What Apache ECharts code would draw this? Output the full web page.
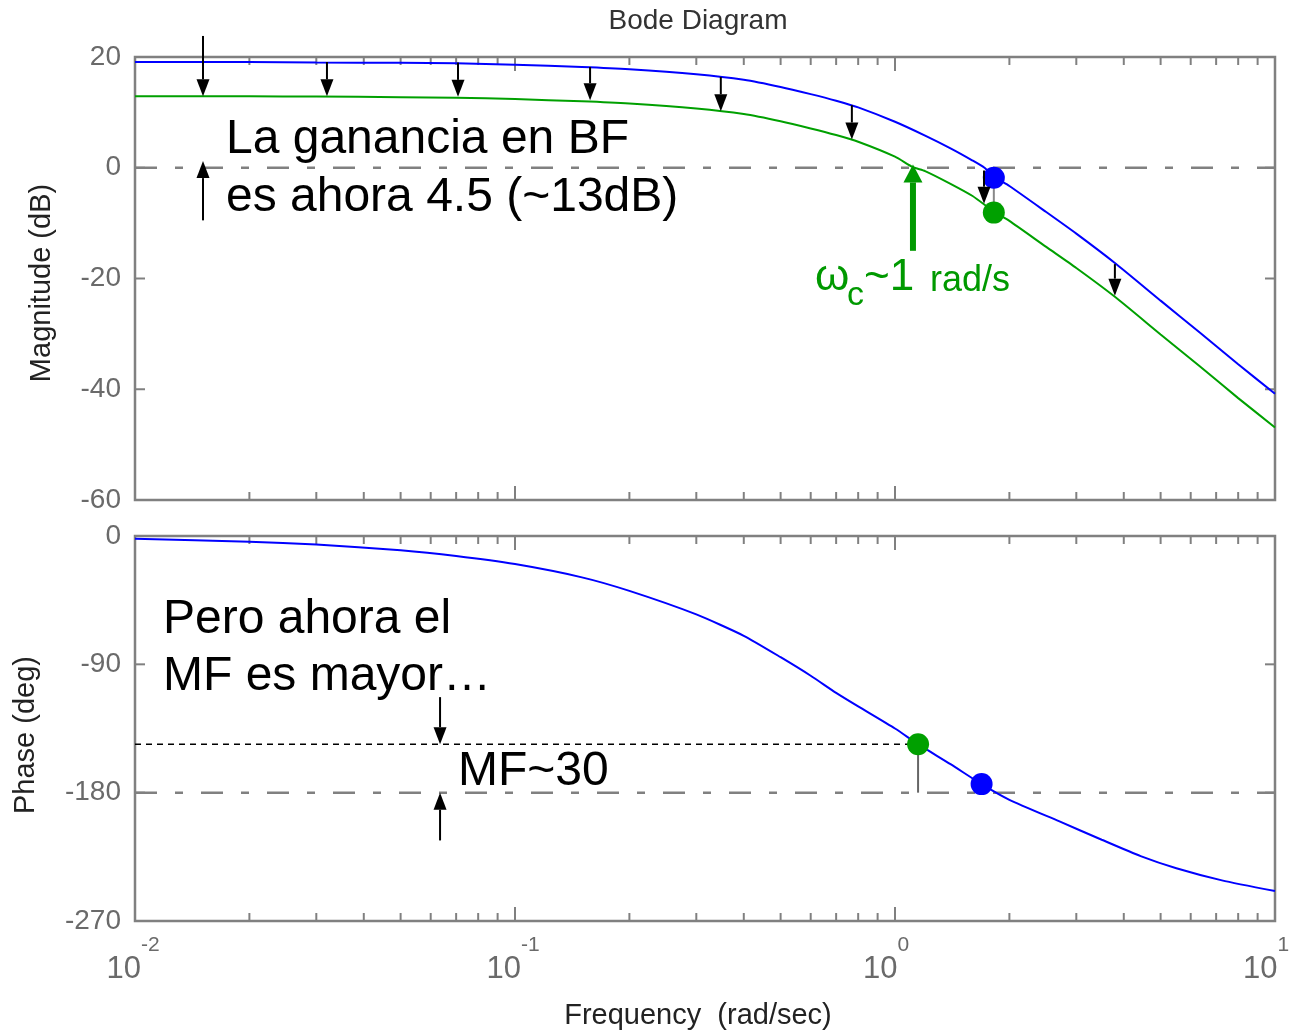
<!DOCTYPE html>
<html><head><meta charset="utf-8">
<script src="https://cdn.jsdelivr.net/npm/echarts@6/dist/echarts.min.js"></script>
<style>html,body{margin:0;padding:0;background:#fff}#c{width:1290px;height:1032px}</style>
</head><body><div id="c"></div>
<script>
// ---- data ----
const magBlue = [[0.01,19.1],[0.02,19.1],[0.03,19.0],[0.05,18.95],[0.07,18.85],[0.1,18.6],[0.15,18.2],[0.2,17.8],[0.3,16.9],[0.4,15.9],[0.5,14.6],[0.6,13.3],[0.7,12.1],[0.8,10.9],[1.0,8.3],[1.2,5.8],[1.4,3.5],[1.6,1.3],[1.72,0],[1.82,-1.6],[2.0,-3.3],[2.5,-8.0],[3.0,-11.9],[3.79,-17.2],[5.0,-24.0],[6.35,-29.8],[8.0,-35.5],[10,-40.8]];
const magGreen = [[0.01,12.9],[0.02,12.9],[0.03,12.85],[0.05,12.75],[0.07,12.65],[0.1,12.4],[0.15,12.0],[0.2,11.6],[0.3,10.7],[0.4,9.7],[0.5,8.4],[0.6,7.1],[0.7,5.9],[0.8,4.7],[1.0,2.0],[1.115,0.1],[1.2,-0.6],[1.4,-2.9],[1.6,-5.1],[1.82,-7.9],[2.0,-9.6],[2.5,-14.3],[3.0,-18.1],[3.79,-23.3],[5.0,-30.1],[6.35,-35.9],[8.0,-41.6],[10,-46.9]];
const phaseBlue = [[0.01,-2],[0.02,-4],[0.03,-6],[0.05,-10],[0.07,-14],[0.1,-19.7],[0.15,-29],[0.2,-38.5],[0.3,-55],[0.4,-70],[0.5,-85],[0.6,-98],[0.7,-110],[0.8,-119.5],[1.0,-135],[1.15,-146],[1.4,-160],[1.69,-174],[2.0,-185],[2.7,-200],[3.5,-213],[4.43,-224.5],[5.5,-233],[7.25,-241.5],[10,-249]];
const magDotBlue = [[1.82,-1.8]];
const magDotGreen = [[1.82,-8.1]];
const phaseDotGreen = [[1.15,-146]];
const phaseDotBlue = [[1.69,-174]];
const magArrows = [[0.0151,23.8,12.9],[0.0151,-9.5,1.2],[0.032,19.1,12.9],[0.0708,19.0,12.8],[0.1576,18.2,12.2],[0.348,16.4,10.2],[0.77,11.3,5.1],[1.715,-0.5,-6.5],[3.79,-17.4,-23.1]];
const wcArrow = [[1.115,-15,0.6]];
const phaseArrows = [[0.0635,-113,-146],[0.0635,-213.5,-180]];
const mfLevel = [[0.01,-146],[1.15,-146]];
const mfDrop = [[1.15,-146],[1.15,-180]];
const magDrop = [[1.82,-1.8],[1.82,-8.1]];
const zeroDb = [[0.01,0],[10,0]];
const minus180 = [[0.01,-180],[10,-180]];
const magTicks = [20,0,-20,-40,-60];
const phaseTicks = [0,-90,-180,-270];
const decades = [0.01,0.1,1,10];
const mults = [2,3,4,5,6,7,8,9];

const FONT = '"Liberation Sans", Arial, sans-serif';
const GRAY = '#808080';
const BLUE = '#0000ff';
const GREEN = '#00a000';
const LBL = '#6a6a6a';

const freqTicks = [];
decades.forEach((d,i)=>{ freqTicks.push([d,1]); if(i<decades.length-1) mults.forEach(m=>freqTicks.push([d*m,0])); });

function freqTickRender(yMin,yMax){
  return function(p,api){
    const f=api.value(0), major=api.value(1);
    const b=api.coord([f,yMin]), t=api.coord([f,yMax]);
    const len=major?14:8;
    return {type:'group',children:[
      {type:'line',shape:{x1:b[0],y1:b[1],x2:b[0],y2:b[1]-len},style:{stroke:GRAY,lineWidth:2}},
      {type:'line',shape:{x1:t[0],y1:t[1],x2:t[0],y2:t[1]+len},style:{stroke:GRAY,lineWidth:2}}
    ]};
  };
}
function yTickRender(p,api){
  const v=api.value(1);
  const l=api.coord([0.01,v]), r=api.coord([10,v]);
  return {type:'group',children:[
    {type:'line',shape:{x1:l[0],y1:l[1],x2:l[0]+10,y2:l[1]},style:{stroke:GRAY,lineWidth:2}},
    {type:'line',shape:{x1:r[0],y1:r[1],x2:r[0]-10,y2:r[1]},style:{stroke:GRAY,lineWidth:2}}
  ]};
}
function arrowRender(hw,hh,lw,color){
  return function(p,api){
    const x=api.value(0);
    const p1=api.coord([x,api.value(1)]), p2=api.coord([x,api.value(2)]);
    const dir=p2[1]>p1[1]?1:-1;
    const by=p2[1]-dir*hh;
    return {type:'group',children:[
      {type:'line',shape:{x1:p1[0],y1:p1[1],x2:p2[0],y2:by},style:{stroke:color,lineWidth:lw}},
      {type:'polygon',shape:{points:[[p2[0],p2[1]],[p2[0]-hw/2,by],[p2[0]+hw/2,by]]},style:{fill:color}}
    ]};
  };
}

const chart = echarts.init(document.getElementById('c'),null,{renderer:'canvas'});
const yLabel = {fontSize:28,color:LBL,fontFamily:FONT,margin:14};
const hiddenX = {type:'log',logBase:10,min:0.01,max:10,axisLine:{show:false},axisTick:{show:false},splitLine:{show:false},minorTick:{show:false}};
const lineBase = {type:'line',showSymbol:false,symbol:'none',animation:false};
const gridBase = {left:135,width:1140,show:true,borderColor:GRAY,borderWidth:2.5,backgroundColor:'#fff',containLabel:false,outerBoundsMode:'none'};

chart.setOption({
  animation:false,
  backgroundColor:'#fff',
  grid:[
    Object.assign({top:57,height:443},gridBase),
    Object.assign({top:536,height:385},gridBase)
  ],
  xAxis:[
    Object.assign({gridIndex:0,axisLabel:{show:false}},hiddenX),
    Object.assign({gridIndex:1,axisLabel:{show:true,margin:14,hideOverlap:false,
      formatter:function(v){
        const e=Math.round(Math.log10(v));
        return '{b|10}{s|'+e+'}{'+(e<0?'p1':'p2')+'| }';
      },
      rich:{
        b:{fontSize:31,lineHeight:31,color:LBL,fontFamily:FONT,verticalAlign:'bottom'},
        s:{fontSize:21,lineHeight:21,color:LBL,fontFamily:FONT,verticalAlign:'top'},
        p1:{fontSize:10,lineHeight:50,width:4},
        p2:{fontSize:10,lineHeight:50,width:18}
      }
    }},hiddenX)
  ],
  yAxis:[
    {type:'value',gridIndex:0,min:-60,max:20,interval:20,axisLine:{show:false},axisTick:{show:false},splitLine:{show:false},axisLabel:yLabel},
    {type:'value',gridIndex:1,min:-270,max:0,interval:90,axisLine:{show:false},axisTick:{show:false},splitLine:{show:false},axisLabel:yLabel}
  ],
  graphic:[
    {type:'text',x:698,y:21,style:{text:'Bode Diagram',fontSize:28,fontFamily:FONT,fill:'#333',align:'center',verticalAlign:'middle'}},
    {type:'text',x:42,y:283,rotation:Math.PI/2,style:{text:'Magnitude (dB)',fontSize:29,fontFamily:FONT,fill:'#222',align:'center',verticalAlign:'middle'}},
    {type:'text',x:26,y:735,rotation:Math.PI/2,style:{text:'Phase (deg)',fontSize:29,fontFamily:FONT,fill:'#222',align:'center',verticalAlign:'middle'}},
    {type:'text',x:698,y:1016,style:{text:'Frequency  (rad/sec)',fontSize:29,fontFamily:FONT,fill:'#222',align:'center',verticalAlign:'middle'}},
    {type:'text',x:226,y:140,z:100,style:{text:'La ganancia en BF',fontSize:48,fontFamily:FONT,fill:'#000',align:'left',verticalAlign:'middle'}},
    {type:'text',x:226,y:198,z:100,style:{text:'es ahora 4.5 (~13dB)',fontSize:48,fontFamily:FONT,fill:'#000',align:'left',verticalAlign:'middle'}},
    {type:'text',x:163,y:620,z:100,style:{text:'Pero ahora el',fontSize:48,fontFamily:FONT,fill:'#000',align:'left',verticalAlign:'middle'}},
    {type:'text',x:163,y:677,z:100,style:{text:'MF es mayor…',fontSize:48,fontFamily:FONT,fill:'#000',align:'left',verticalAlign:'middle'}},
    {type:'text',x:458,y:772,z:100,style:{text:'MF~30',fontSize:48,fontFamily:FONT,fill:'#000',align:'left',verticalAlign:'middle'}},
    {type:'text',x:815,y:278,z:100,style:{text:'ω',fontSize:44,fontFamily:FONT,fill:'#009900',align:'left',verticalAlign:'middle'}},
    {type:'text',x:847,y:296,z:100,style:{text:'c',fontSize:34,fontFamily:FONT,fill:'#009900',align:'left',verticalAlign:'middle'}},
    {type:'text',x:864,y:278,z:100,style:{text:'~1',fontSize:44,fontFamily:FONT,fill:'#009900',align:'left',verticalAlign:'middle'}},
    {type:'text',x:930,y:281,z:100,style:{text:'rad/s',fontSize:36,fontFamily:FONT,fill:'#009900',align:'left',verticalAlign:'middle'}}
  ],
  series:[
    Object.assign({},lineBase,{xAxisIndex:0,yAxisIndex:0,data:zeroDb,z:2,lineStyle:{color:GRAY,width:2.5,type:[22,18,8,18]}}),
    Object.assign({},lineBase,{xAxisIndex:1,yAxisIndex:1,data:minus180,z:2,lineStyle:{color:GRAY,width:2.5,type:[22,18,8,18]}}),
    {type:'custom',xAxisIndex:0,yAxisIndex:0,data:freqTicks,renderItem:freqTickRender(-60,20),z:3,silent:true},
    {type:'custom',xAxisIndex:1,yAxisIndex:1,data:freqTicks,renderItem:freqTickRender(-270,0),z:3,silent:true},
    {type:'custom',xAxisIndex:0,yAxisIndex:0,data:magTicks.map(v=>[0.01,v]),renderItem:yTickRender,z:3,silent:true},
    {type:'custom',xAxisIndex:1,yAxisIndex:1,data:phaseTicks.map(v=>[0.01,v]),renderItem:yTickRender,z:3,silent:true},
    Object.assign({},lineBase,{xAxisIndex:1,yAxisIndex:1,data:mfLevel,z:4,lineStyle:{color:'#000',width:1.5,type:[6,5]}}),
    Object.assign({},lineBase,{xAxisIndex:1,yAxisIndex:1,data:mfDrop,z:4,lineStyle:{color:'#666',width:2}}),
    Object.assign({},lineBase,{xAxisIndex:0,yAxisIndex:0,data:magDrop,z:4,lineStyle:{color:'#888',width:2}}),
    Object.assign({},lineBase,{name:'|G| azul',xAxisIndex:0,yAxisIndex:0,data:magBlue,smooth:0.2,z:5,lineStyle:{color:BLUE,width:2}}),
    Object.assign({},lineBase,{name:'|G| verde',xAxisIndex:0,yAxisIndex:0,data:magGreen,smooth:0.2,z:5,lineStyle:{color:GREEN,width:2}}),
    Object.assign({},lineBase,{name:'fase',xAxisIndex:1,yAxisIndex:1,data:phaseBlue,smooth:0.2,z:5,lineStyle:{color:BLUE,width:2}}),
    {type:'scatter',xAxisIndex:0,yAxisIndex:0,data:magDotBlue,symbolSize:22,itemStyle:{color:BLUE,opacity:1},z:6},
    {type:'scatter',xAxisIndex:0,yAxisIndex:0,data:magDotGreen,symbolSize:22,itemStyle:{color:GREEN,opacity:1},z:6},
    {type:'scatter',xAxisIndex:1,yAxisIndex:1,data:phaseDotGreen,symbolSize:22,itemStyle:{color:GREEN,opacity:1},z:6},
    {type:'scatter',xAxisIndex:1,yAxisIndex:1,data:phaseDotBlue,symbolSize:22,itemStyle:{color:BLUE,opacity:1},z:6},
    {type:'custom',xAxisIndex:0,yAxisIndex:0,data:magArrows,renderItem:arrowRender(13,17,2,'#000'),z:7,silent:true,clip:false},
    {type:'custom',xAxisIndex:0,yAxisIndex:0,data:wcArrow,renderItem:arrowRender(19,18,6,'#009900'),z:7,silent:true,clip:false},
    {type:'custom',xAxisIndex:1,yAxisIndex:1,data:phaseArrows,renderItem:arrowRender(13,17,2,'#000'),z:7,silent:true,clip:false}
  ]
});
</script></body></html>
